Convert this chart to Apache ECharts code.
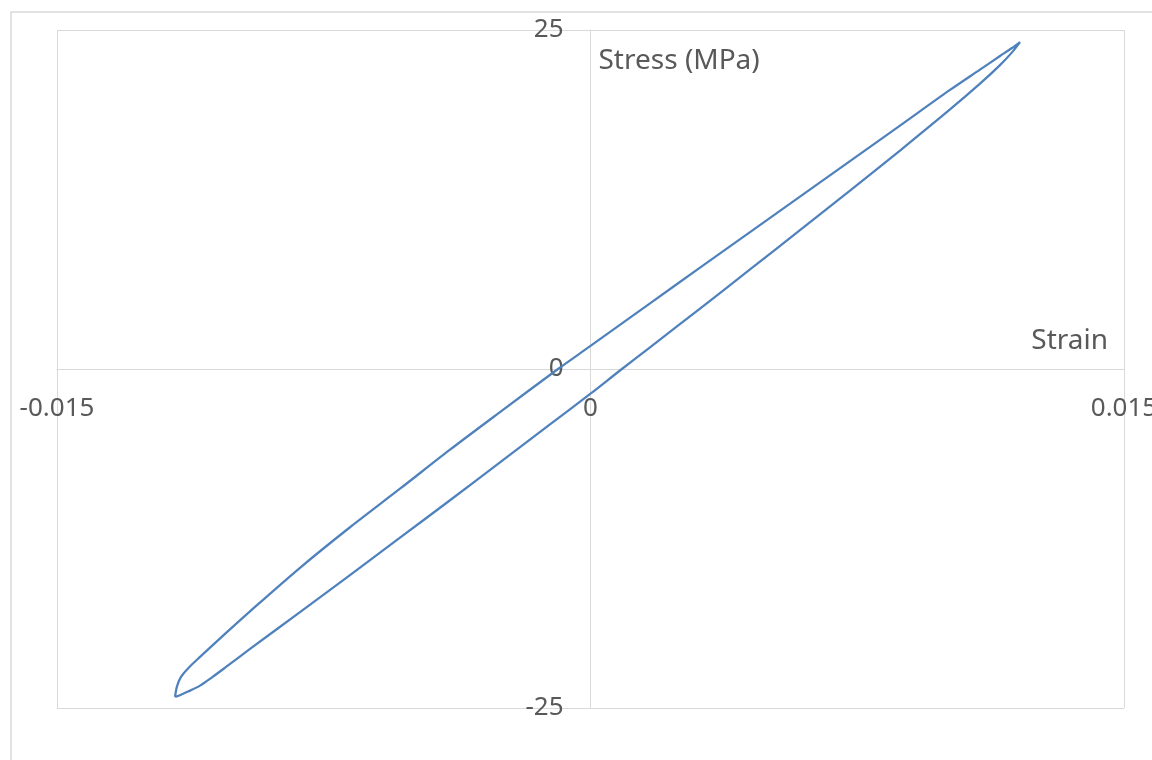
<!DOCTYPE html>
<html>
<head>
<meta charset="utf-8">
<script src="https://cdn.jsdelivr.net/npm/echarts@6/dist/echarts.min.js"></script>
<style>html,body{margin:0;padding:0;background:#fff;}#c{width:1152px;height:760px;}</style>
</head>
<body>
<div id="c"></div>
<script>
// Strain values (x) around the hysteresis loop (bottom tip -> lower branch -> top tip -> upper branch)
const strain = [
  -0.011682, -0.011514, -0.011317, -0.010979, -0.010642, -0.010276, -0.009573, -0.008168,
  -0.006762, -0.005356, -0.003950, -0.002545, -0.001139, 0.0, 0.000829, 0.001673, 0.003079,
  0.004485, 0.005890, 0.007296, 0.008702, 0.010108, 0.010951, 0.011513, 0.011851, 0.012076,
  0.011851, 0.011513, 0.010951, 0.010108, 0.008702, 0.007296, 0.005890, 0.004485, 0.003079,
  0.001673, 0.0, -0.000914, -0.002545, -0.003950, -0.005356, -0.006762, -0.008168, -0.009573,
  -0.010276, -0.010979, -0.011317, -0.011514, -0.011626, -0.011682
];
// Stress values (MPa) matching each strain value
const stress = [
  -24.19, -24.02, -23.79, -23.35, -22.74, -22.03, -20.64, -17.93,
  -15.20, -12.44, -9.68, -6.89, -4.08, -1.82, -0.11, 1.60, 4.46,
  7.34, 10.24, 13.15, 16.11, 19.14, 21.04, 22.41, 23.35, 24.11,
  23.67, 23.08, 22.08, 20.58, 17.95, 15.33, 12.71, 10.09, 7.47,
  4.84, 1.70, 0.0, -3.18, -5.95, -8.83, -11.67, -14.66, -17.87,
  -19.53, -21.23, -22.08, -22.71, -23.41, -24.19
];
const xTicks = [-0.015, 0, 0.015];
const yTicks = [-25, 0, 25];
const xName = 'Strain';
const yName = 'Stress (MPa)';

const pts = strain.map((x, i) => [x, stress[i]]);
const FONT = '"Noto Sans", sans-serif';
const TXT = '#595959';
const GRID = '#d9d9d9';

const G = { left: 57, right: 28, top: 30, bottom: 52 };
const plotW = 1152 - G.left - G.right;
const plotH = 760 - G.top - G.bottom;

const chart = echarts.init(document.getElementById('c'));
chart.setOption({
  animation: false,
  backgroundColor: '#fff',
  grid: Object.assign({ outerBoundsMode: 'none', containLabel: false }, G),
  xAxis: {
    type: 'value', position: 'bottom', offset: -plotH / 2,
    min: xTicks[0], max: xTicks[2], interval: 0.015,
    name: xName, nameLocation: 'end', nameGap: -16,
    nameTextStyle: { color: TXT, fontSize: 28, fontFamily: FONT, align: 'right', verticalAlign: 'bottom', padding: [0, 0, 14, 0] },
    axisLine: { show: true, onZero: false, lineStyle: { color: GRID, width: 1 } },
    axisTick: { show: false },
    axisLabel: { color: TXT, fontSize: 26, fontFamily: FONT, margin: 27, showMinLabel: true, showMaxLabel: true,
      formatter: v => (Math.abs(v) < 1e-12 ? '0' : String(Number(v.toFixed(3)))) },
    splitLine: { show: true, lineStyle: { color: GRID, width: 1 } }
  },
  yAxis: {
    type: 'value', position: 'left', offset: -plotW / 2,
    min: yTicks[0], max: yTicks[2], interval: 25,
    name: yName, nameLocation: 'end', nameGap: -45,
    nameTextStyle: { color: TXT, fontSize: 28, fontFamily: FONT, align: 'left', verticalAlign: 'bottom', padding: [0, 0, 0, 8] },
    axisLine: { show: true, onZero: false, lineStyle: { color: GRID, width: 1 } },
    axisTick: { show: false },
    axisLabel: { color: TXT, fontSize: 26, fontFamily: FONT, margin: 27 },
    splitLine: { show: true, lineStyle: { color: GRID, width: 1 } }
  },
  graphic: [{
    type: 'rect', silent: true, z: -1,
    shape: { x: 11, y: 12, width: 1300, height: 900 },
    style: { fill: 'none', stroke: '#d9d9d9', lineWidth: 1.5 }
  }],
  series: [{
    type: 'line',
    data: pts,
    showSymbol: false,
    smooth: 0.3,
    lineStyle: { color: '#4f81bd', width: 2.25 },
    clip: false
  }]
});
</script>
</body>
</html>
